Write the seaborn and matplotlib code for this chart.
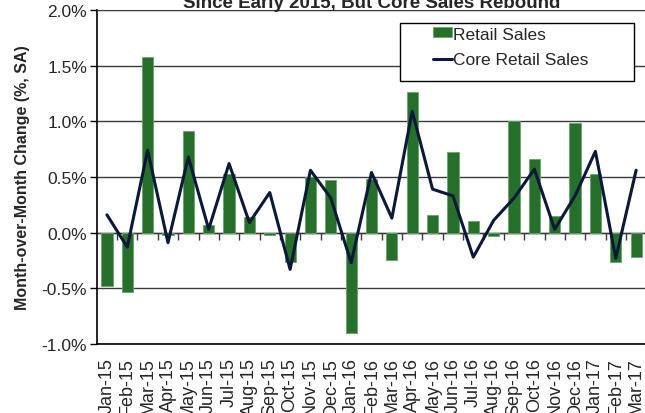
import pandas as pd
import matplotlib
matplotlib.use("Agg")
import matplotlib.pyplot as plt
from matplotlib.patches import Rectangle
import seaborn as sns

# Monthly data, Jan-15 .. Mar-17 (m/m % change, SA)
months = ["Jan-15", "Feb-15", "Mar-15", "Apr-15", "May-15", "Jun-15", "Jul-15",
          "Aug-15", "Sep-15", "Oct-15", "Nov-15", "Dec-15", "Jan-16", "Feb-16",
          "Mar-16", "Apr-16", "May-16", "Jun-16", "Jul-16", "Aug-16", "Sep-16",
          "Oct-16", "Nov-16", "Dec-16", "Jan-17", "Feb-17", "Mar-17"]
retail_sales = [-0.48, -0.53, 1.58, -0.02, 0.91, 0.07, 0.53, 0.14, -0.02, -0.26,
                0.50, 0.47, -0.90, 0.48, -0.25, 1.26, 0.16, 0.72, 0.10, -0.03,
                1.00, 0.66, 0.15, 0.98, 0.53, -0.26, -0.22]
core_retail = [0.16, -0.13, 0.74, -0.09, 0.68, 0.03, 0.62, 0.09, 0.36, -0.33,
               0.56, 0.31, -0.27, 0.54, 0.13, 1.09, 0.39, 0.33, -0.22, 0.11,
               0.31, 0.57, 0.03, 0.33, 0.73, -0.23, 0.56]
yticks = [-1.0, -0.5, 0.0, 0.5, 1.0, 1.5, 2.0]

df = pd.DataFrame({"Month": months, "Retail Sales": retail_sales,
                   "Core Retail Sales": core_retail})

sns.set_style("white")
plt.rcParams["font.family"] = ["Liberation Sans", "DejaVu Sans"]

fig = plt.figure(figsize=(6.45, 4.14), dpi=100)
ax = fig.add_axes([0.150, 0.1667, 0.852, 0.807])

sns.barplot(data=df, x="Month", y="Retail Sales", color="#26702c",
            saturation=1, width=0.55, edgecolor="#6aa36d", linewidth=0.6,
            label="Retail Sales", ax=ax, zorder=3)
sns.lineplot(data=df, x="Month", y="Core Retail Sales", color="#0b1838",
             linewidth=2.2, sort=False, label="Core Retail Sales", ax=ax,
             zorder=4)

ax.set_ylim(-1.0, 2.0)
ax.set_xlim(-0.5, len(months) - 0.5)
ax.set_yticks(yticks)
ax.set_yticklabels([f"{v:.1f}%" for v in yticks], fontsize=12.5)
ax.yaxis.grid(True, color="#3a3a3a", linewidth=1.0, zorder=0)
ax.set_axisbelow(True)
ax.tick_params(axis="y", left=True, length=5, width=1, color="black", pad=2)
ax.tick_params(axis="x", bottom=False, length=0, pad=9.5)
ax.set_xticks(range(len(months)))
ax.set_xticklabels(months, rotation=90, fontsize=13)

for side in ["left", "bottom"]:
    ax.spines[side].set_color("black")
    ax.spines[side].set_linewidth(1.2)
ax.spines["top"].set_color("#3a3a3a")
ax.spines["right"].set_visible(False)

ax.set_xlabel("")
ax.set_ylabel("Month-over-Month Change (%, SA)", fontsize=11.5,
              fontweight="bold", labelpad=8)

# zero axis with tick marks between categories
zero = ax.secondary_xaxis(1 / 3)
zero.set_xticks([i + 0.5 for i in range(len(months) - 1)])
zero.set_xticklabels([])
zero.tick_params(direction="out", length=5, width=1, color="#3a3a3a")
zero.spines["bottom"].set_color("#555555")
zero.spines["bottom"].set_linewidth(1.0)

ax.set_title("Since Early 2015, But Core Sales Rebound", fontsize=13.5,
             fontweight="bold", pad=2)

# legend: boxed, entries inset from the frame
ax.add_patch(Rectangle((0.552, 0.787), 0.426, 0.173, transform=ax.transAxes,
                       facecolor="white", edgecolor="black", linewidth=1.0,
                       zorder=5, clip_on=False))
handles, labels = ax.get_legend_handles_labels()
order = [labels.index("Retail Sales"), labels.index("Core Retail Sales")]
leg = ax.legend([handles[i] for i in order], [labels[i] for i in order],
                loc="upper left", bbox_to_anchor=(0.612, 0.950),
                borderaxespad=0, borderpad=0, fontsize=12.5, frameon=False,
                handlelength=1.1, handleheight=0.5, handletextpad=0.05,
                labelspacing=0.62)
leg.set_zorder(6)

fig.savefig("out.png", dpi=100)
